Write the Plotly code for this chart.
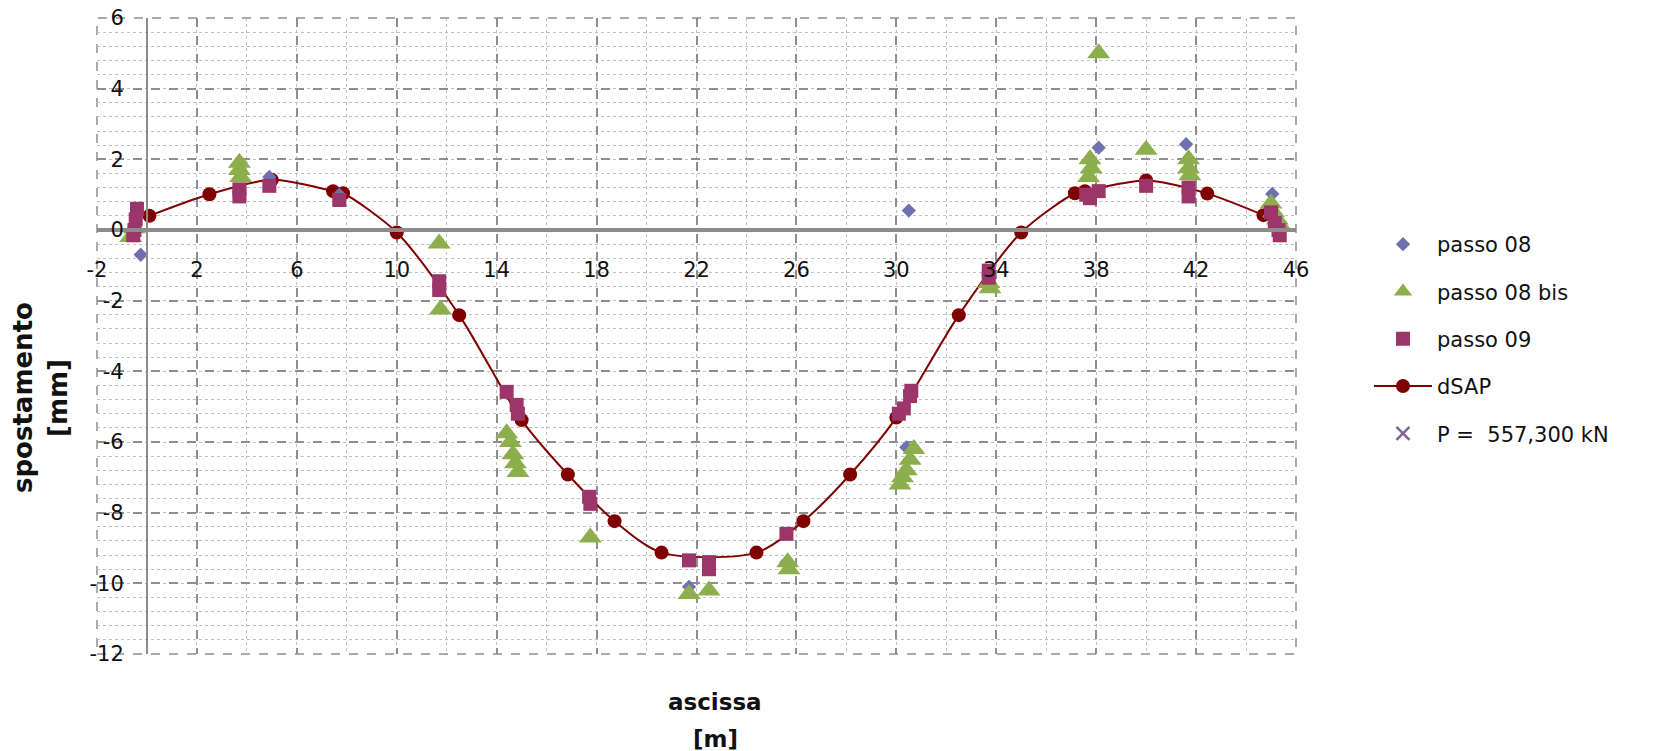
import plotly.graph_objects as go

# --- data -------------------------------------------------------------
# dSAP: computed deflection line
dsap_x = [0.1, 2.5, 5.0, 7.45, 7.85, 10.0, 12.5, 15.0, 16.85, 18.72, 20.6,
          24.4, 26.28, 28.15, 30.0, 32.5, 35.0, 37.15, 37.55, 40.0, 42.45, 44.7]
dsap_y = [0.40, 1.01, 1.42, 1.10, 1.04, -0.07, -2.41, -5.38, -6.92, -8.24, -9.13,
          -9.13, -8.24, -6.92, -5.31, -2.41, -0.07, 1.04, 1.10, 1.40, 1.03, 0.42]

# passo 08
p08_x = [-0.25, 3.75, 4.9, 7.7, 21.7, 25.6, 30.4, 30.5, 38.1, 41.6, 45.05]
p08_y = [-0.70, 1.90, 1.50, 1.00, -10.1, -9.4, -6.15, 0.55, 2.33, 2.43, 1.02]

# passo 08 bis
p08b_x = [-0.65, -0.5, 3.7, 3.7, 3.75, 11.7, 11.75, 14.4, 14.55, 14.65, 14.75, 14.85,
          17.75, 21.7, 22.5, 25.65, 25.7, 30.7, 30.55, 30.4, 30.25, 30.15,
          33.7, 33.75, 38.1, 37.75, 37.8, 37.7, 40.0, 41.7, 41.7, 41.75,
          45.0, 45.1, 45.25, 45.4]
p08b_y = [-0.20, 0.05, 1.90, 1.70, 1.50, -0.38, -2.25, -5.75, -6.0, -6.35, -6.6, -6.85,
          -8.70, -10.3, -10.2, -9.4, -9.6, -6.2, -6.5, -6.8, -7.0, -7.2,
          -1.50, -1.65, 5.0, 2.0, 1.75, 1.5, 2.27, 2.0, 1.75, 1.55,
          0.75, 0.50, 0.30, 0.10]

# passo 09
p09_x = [-0.4, -0.45, -0.5, -0.55, 3.7, 3.7, 4.9, 7.7, 11.7, 11.7, 14.4, 14.8, 14.85,
         17.7, 17.75, 21.7, 22.5, 22.5, 25.6, 30.1, 30.3, 30.55, 30.6, 33.7, 33.7,
         37.6, 37.75, 38.1, 40.0, 41.7, 41.7, 45.0, 45.15, 45.3, 45.35]
p09_y = [0.60, 0.30, 0.0, -0.15, 1.15, 0.95, 1.25, 0.85, -1.45, -1.70, -4.58, -4.95, -5.2,
         -7.55, -7.75, -9.35, -9.40, -9.60, -8.60, -5.2, -5.05, -4.70, -4.55, -1.15, -1.35,
         1.00, 0.90, 1.10, 1.25, 1.20, 0.95, 0.50, 0.20, 0.0, -0.15]

x_ticks = [-2, 2, 6, 10, 14, 18, 22, 26, 30, 34, 38, 42, 46]
x_ticktext = ["-2", "2", "6", "10", "14", "18", "22", "26", "30", "34", "38", "42", "46"]
y_ticks = [-12, -10, -8, -6, -4, -2, 0, 2, 4, 6]
y_ticktext = ["-12", "-10", "-8", "-6", "-4", "-2", "0", "2", "4", "6"]

X_RANGE = [-2, 46]
Y_RANGE = [-12, 6]

# --- styling ----------------------------------------------------------
FONT = "DejaVu Sans"
TXT = "#111111"
W, H = 1656, 751
L, R, T, B = 97, 360, 18, 97
plot_w = W - L - R
plot_h = H - T - B
GRID_MAJOR = "#8e8e8e"
GRID_MINOR = "#c0c0c0"


def px_x(p):
    return (p - L) / plot_w


def px_y(p):
    return (H - B - p) / plot_h


fig = go.Figure()

fig.add_trace(go.Scatter(
    x=dsap_x, y=dsap_y, name="dSAP", mode="lines+markers",
    line=dict(color="#800000", width=2, shape="spline", smoothing=0.8),
    marker=dict(symbol="circle", size=14, color="#800000"),
    legendgroup="d", legendrank=4,
))
fig.add_trace(go.Scatter(
    x=p08_x, y=p08_y, name="passo 08", mode="markers",
    marker=dict(symbol="diamond", size=11, color="#7070B0"),
    legendgroup="a", legendrank=1,
))
fig.add_trace(go.Scatter(
    x=p08b_x, y=p08b_y, name="passo 08 bis", mode="markers",
    marker=dict(symbol="triangle-up", size=20, color="#8DAE4C"),
    legendgroup="b", legendrank=2,
))
fig.add_trace(go.Scatter(
    x=p09_x, y=p09_y, name="passo 09", mode="markers",
    marker=dict(symbol="square", size=14, color="#9C3569"),
    legendgroup="c", legendrank=3,
))
fig.add_trace(go.Scatter(
    x=[None], y=[None], name="P =  557,300 kN", mode="markers",
    marker=dict(symbol="x-thin", size=13, color="#8064A2",
                line=dict(width=2.5, color="#8064A2")),
    legendgroup="e", legendrank=5,
))

fig.update_layout(
    width=W, height=H,
    margin=dict(l=L, r=R, t=T, b=B, autoexpand=False),
    paper_bgcolor="white", plot_bgcolor="white",
    font=dict(family=FONT, size=21, color=TXT),
    showlegend=True,
    legend=dict(
        x=px_x(1369), y=px_y(224), xanchor="left", yanchor="top",
        traceorder="grouped", tracegroupgap=17, itemwidth=58,
        font=dict(family=FONT, size=21, color=TXT),
        bgcolor="rgba(0,0,0,0)",
    ),
    xaxis=dict(
        range=X_RANGE, tickmode="array", tickvals=x_ticks, ticktext=x_ticktext,
        showgrid=True, gridcolor=GRID_MAJOR, griddash="dash", gridwidth=1.5,
        minor=dict(tickmode="linear", tick0=0, dtick=2, showgrid=True,
                   gridcolor=GRID_MINOR, griddash="dot", gridwidth=1.3),
        showline=True, linecolor="#8c8c8c", linewidth=4,
        anchor="free", position=(0 - Y_RANGE[0]) / (Y_RANGE[1] - Y_RANGE[0]),
        zeroline=False, ticks="", ticklabelstandoff=20,
        tickfont=dict(family=FONT, size=21, color=TXT),
    ),
    yaxis=dict(
        range=Y_RANGE, tickmode="array", tickvals=y_ticks, ticktext=y_ticktext,
        showgrid=True, gridcolor=GRID_MAJOR, griddash="dash", gridwidth=1.5,
        minor=dict(tickmode="linear", tick0=-12, dtick=0.4, showgrid=True,
                   gridcolor=GRID_MINOR, griddash="dot", gridwidth=1.3),
        showline=True, linecolor="#8c8c8c", linewidth=2,
        anchor="free", position=(0 - X_RANGE[0]) / (X_RANGE[1] - X_RANGE[0]),
        zeroline=False, ticks="", ticklabelstandoff=18,
        tickfont=dict(family=FONT, size=21, color=TXT),
    ),
)

# dashed frame around the plot area
fig.add_shape(type="rect", xref="paper", yref="paper", x0=0, x1=1, y0=0, y1=1,
              line=dict(color=GRID_MAJOR, width=1.5, dash="dash"), layer="below")

# axis titles
ytitle_font = dict(family=FONT, size=26, color=TXT)
xtitle_font = dict(family=FONT, size=23, color=TXT)
fig.add_annotation(text="<b>spostamento</b>", xref="paper", yref="paper",
                   x=px_x(23), y=px_y(398), textangle=-90, showarrow=False,
                   xanchor="center", yanchor="middle", font=ytitle_font)
fig.add_annotation(text="<b>[mm]</b>", xref="paper", yref="paper",
                   x=px_x(58), y=px_y(398), textangle=-90, showarrow=False,
                   xanchor="center", yanchor="middle", font=ytitle_font)
fig.add_annotation(text="<b>ascissa</b>", xref="paper", yref="paper",
                   x=px_x(715), y=px_y(702), showarrow=False,
                   xanchor="center", yanchor="middle", font=xtitle_font)
fig.add_annotation(text="<b>[m]</b>", xref="paper", yref="paper",
                   x=px_x(715), y=px_y(739), showarrow=False,
                   xanchor="center", yanchor="middle", font=xtitle_font)

fig.write_html("out.html")
